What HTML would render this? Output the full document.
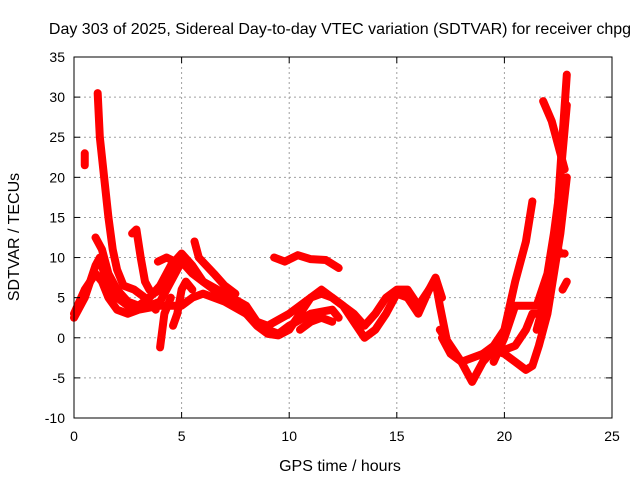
<!DOCTYPE html>
<html><head><meta charset="utf-8"><style>
body{margin:0;background:#fff;}
svg text{font-family:"Liberation Sans",sans-serif;font-size:14px;fill:#000;}
svg text.big{font-size:16px;}
</style></head><body>
<svg id="chart" width="640" height="480">
<text class="big" x="340" y="34" text-anchor="middle">Day 303 of 2025, Sidereal Day-to-day VTEC variation (SDTVAR) for receiver chpg</text>
<text class="big" x="340" y="471" text-anchor="middle">GPS time / hours</text>
<text class="big" transform="translate(19,237) rotate(-90)" text-anchor="middle">SDTVAR / TECUs</text>
<g id="grid"></g><g id="series"></g><g id="axes"></g>
</svg>
<script>
const xTicks=[0,5,10,15,20,25];
const yTicks=[-10,-5,0,5,10,15,20,25,30,35];
const sA=[[1.1,30.5],[1.2,25],[1.4,20],[1.6,15],[1.8,11],[2.0,8.5],[2.3,6.5],[2.8,6],[3.3,5],[3.8,3.5]];
const s1=[[0,3],[0.5,6],[1,8],[1.3,7],[1.6,5],[2,3.5],[2.5,3],[3,3.5],[4,4],[5,4],[5.5,5],[6,5.5],[7,4.5],[8,3],[9,1],[9.5,0.5],[10,1.5],[11,3],[12,3.5],[12.3,2.5]];
const s1b=[[10.5,1],[11,2],[11.5,2.5],[12,2]];
const s2=[[0,2.5],[0.5,5],[1,9],[1.2,10],[1.5,7],[2,5],[2.5,4],[3,4],[3.5,4],[4,4.5],[4.5,7],[5,9.5],[5.5,8],[6,7],[7,5.5],[8,4],[8.5,2],[9,1.5],[10,3],[11,5],[11.5,6],[12,5],[13,3],[13.5,1.5],[14,3],[14.5,5],[15,6],[15.5,6],[16,4],[16.5,6],[16.8,7],[17,4],[17.3,0]];
const s3=[[1,12.5],[1.3,11],[1.6,8],[2,6],[2.5,4.5],[3,4],[3.5,5],[4,6.5],[4.5,9],[5,10.5],[5.5,9],[6,7],[7,5],[8,3],[8.5,1.5],[9,0.5],[9.5,0.3],[10,1],[10.5,3],[11,5],[11.5,5.5],[12,5],[12.5,4],[13,2],[13.5,0],[14,1],[14.5,3],[15,5.5],[15.5,5],[16,3],[16.5,6],[16.8,7.5],[17.1,5]];
const s4=[[2.7,13],[2.9,13.5],[3.1,10],[3.3,7],[3.5,6],[3.7,5.5],[4,6],[4.5,8],[5,10],[5.3,9]];
const s5=[[3.9,9.5],[4.3,10],[4.7,9.5],[5,10]];
const s6=[[4.0,-1.2],[4.2,3],[4.5,5]];
const s7=[[4.6,1.5],[4.8,3],[5,6],[5.2,7],[5.5,6]];
const s8=[[5.6,12],[5.8,10],[6.5,8],[7,6.5],[7.5,5.5]];
const s9=[[9.3,10],[9.8,9.5],[10.4,10.3],[11,9.8],[11.7,9.7],[12.3,8.7]];
const s10=[[0.5,23],[0.5,21.5]];
const s11=[[17,1],[17.5,-1],[18,-3],[18.5,-5.5],[19,-3],[19.5,-1.5],[20,-1.5],[20.5,-1],[21,1],[21.3,3],[21.6,3],[22,4],[22.3,10],[22.5,17],[22.7,25],[22.9,32.8]];
const s12=[[17.1,0],[17.5,-2],[18,-3],[18.5,-2.5],[19,-2],[19.5,-1.5],[20,-2],[20.5,-3],[21,-4],[21.3,-3.5],[21.6,-1],[22,3],[22.3,8],[22.6,13],[22.9,20]];
const s13=[[19,-2],[19.5,-1],[20,1],[20.5,7],[21,12],[21.3,17]];
const s14=[[19.5,-3],[20,0],[20.5,4],[21,4],[21.5,4],[22,8],[22.3,13],[22.5,17],[22.7,23],[22.9,29]];
const s15=[[21.8,29.5],[22.2,27],[22.5,24],[22.8,21]];
const s16=[[21.5,1],[22,6],[22.3,12],[22.6,10.5],[22.8,10.5]];
const s17=[[22.7,6],[22.9,7]];
const allSeries=[sA,s1,s1b,s2,s3,s4,s5,s6,s7,s8,s9,s10,s11,s12,s13,s14,s15,s16,s17];
const X0=74,X1=612,Y0=418,Y1=57;
const xs=v=>X0+(v-0)/25*(X1-X0);
const ys=v=>Y0-(v+10)/45*(Y0-Y1);
const NS="http://www.w3.org/2000/svg";
function mk(t,a,p){const e=document.createElementNS(NS,t);for(const k in a)e.setAttribute(k,a[k]);p.appendChild(e);return e;}
const grid=document.getElementById('grid'),axes=document.getElementById('axes'),ser=document.getElementById('series');
xTicks.forEach(t=>{
 if(t>0&&t<25){const g=mk('line',{x1:xs(t),x2:xs(t),y1:Y1,y2:Y0,stroke:'#a0a0a0','stroke-dasharray':'2,3'},grid);
 
 }
 const l=mk('text',{x:xs(t),y:Y0+23,'text-anchor':'middle'},axes);l.textContent=t;
 
 
 mk('line',{x1:xs(t),x2:xs(t),y1:Y0,y2:Y0-6,stroke:'#000'},axes);
 mk('line',{x1:xs(t),x2:xs(t),y1:Y1,y2:Y1+6,stroke:'#000'},axes);
});
yTicks.forEach(t=>{
 if(t>-10&&t<35){const g=mk('line',{x1:X0,x2:X1,y1:ys(t),y2:ys(t),stroke:'#a0a0a0','stroke-dasharray':'2,3'},grid);
 
 }
 const l=mk('text',{x:X0-9,y:ys(t)+5,'text-anchor':'end'},axes);l.textContent=t;
 
 
 mk('line',{x1:X0,x2:X0+6,y1:ys(t),y2:ys(t),stroke:'#000'},axes);
 mk('line',{x1:X1,x2:X1-6,y1:ys(t),y2:ys(t),stroke:'#000'},axes);
});
const fr=mk('rect',{x:X0,y:Y1,width:X1-X0,height:Y0-Y1,fill:'none',stroke:'#000'},axes);


allSeries.forEach((s,i)=>{
 const pts=s.map(p=>xs(p[0])+','+ys(p[1])).join(' ');
 const pl=mk('polyline',{points:pts,fill:'none',stroke:'#ff0000','stroke-width':8,'stroke-linejoin':'round','stroke-linecap':'round'},ser);
 
 
});
</script>
</body></html>
